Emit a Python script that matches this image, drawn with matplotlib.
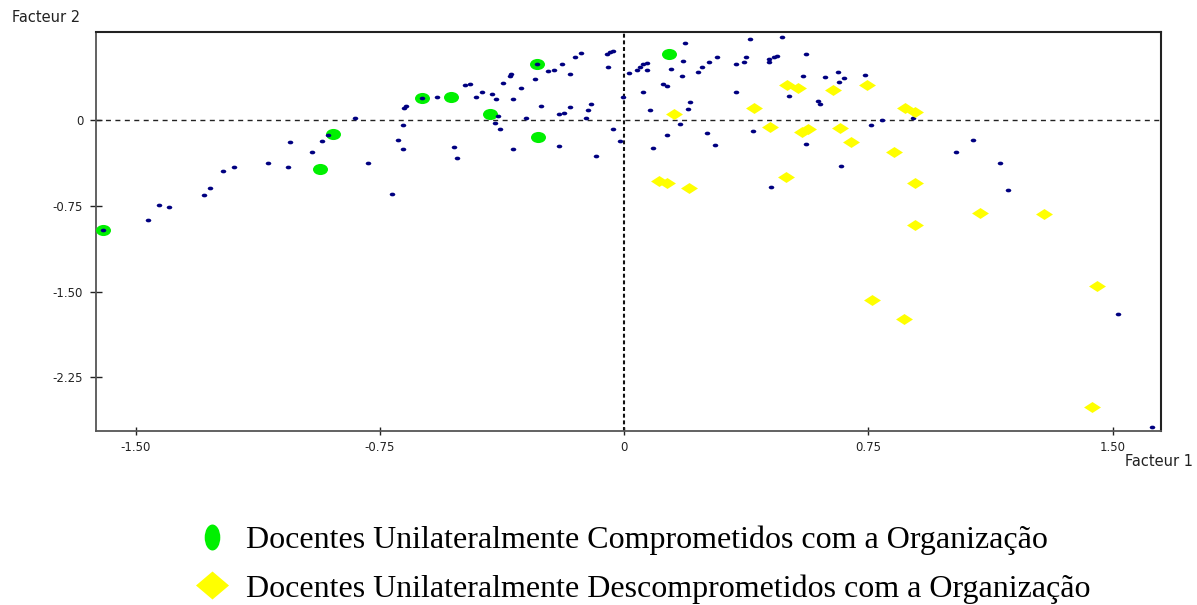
import numpy as np
import matplotlib
matplotlib.use("Agg")
import matplotlib.pyplot as plt
from matplotlib.path import Path
from matplotlib.transforms import Affine2D
from matplotlib.lines import Line2D

# ---------------- data ----------------
navy_x = [-1.599, -1.462, -1.428, -1.398, -1.291, -1.271, -1.232, -1.198, -1.095, -1.031,
          -1.027, -0.958, -0.928, -0.909, -0.826, -0.787, -0.713, -0.696, -0.675, -0.669,
          -0.680, -0.680, -0.621, -0.576, -0.522, -0.513, -0.488, -0.473, -0.455, -0.435,
          -0.405, -0.395, -0.386, -0.396, -0.382, -0.342, -0.342, -0.371, -0.350, -0.346,
          -0.316, -0.302, -0.273, -0.269, -0.254, -0.234, -0.215, -0.190, -0.166, -0.150,
          -0.131, -0.201, -0.185, -0.200, -0.165, -0.117, -0.111, -0.102, -0.087, -0.053,
          -0.044, -0.033, -0.048, -0.033, -0.014, -0.004, 0.016, 0.041, 0.049, 0.059,
          0.070, 0.070, 0.059, 0.080, 0.089, 0.133, 0.119, 0.133, 0.143, 0.186,
          0.182, 0.177, 0.173, 0.197, 0.202, 0.226, 0.240, 0.260, 0.285, 0.255,
          0.279, 0.344, 0.369, 0.374, 0.343, 0.387, 0.397, 0.451, 0.446, 0.446,
          0.459, 0.471, 0.485, 0.505, 0.559, 0.549, 0.617, 0.656, 0.661, 0.676,
          0.739, 0.597, 0.602, 0.793, 0.759, 0.887, 0.559, 0.666, 1.072, 1.019,
          1.155, 1.179, 1.518, 1.621]
navy_y = [-0.962, -0.874, -0.746, -0.758, -0.656, -0.592, -0.446, -0.408, -0.373, -0.408,
          -0.192, -0.282, -0.181, -0.128, 0.017, -0.373, -0.647, -0.175, 0.108, 0.125,
          -0.046, -0.256, 0.190, 0.198, -0.236, -0.330, 0.309, 0.317, 0.198, 0.245,
          0.227, 0.181, 0.035, -0.029, -0.081, -0.256, 0.181, 0.326, 0.385, 0.402,
          0.280, 0.017, 0.361, 0.492, 0.125, 0.426, 0.437, 0.492, 0.399, 0.553,
          0.583, 0.052, 0.064, -0.227, 0.116, 0.015, 0.087, 0.137, -0.317, 0.574,
          0.592, 0.601, 0.463, -0.081, -0.184, 0.198, 0.408, 0.434, 0.466, 0.487,
          0.501, 0.434, 0.245, 0.090, -0.247, -0.128, 0.317, 0.300, 0.443, 0.673,
          0.518, 0.382, -0.038, 0.099, 0.155, 0.420, 0.463, 0.507, 0.553, -0.111,
          -0.219, 0.492, 0.507, 0.553, 0.245, 0.708, -0.094, -0.583, 0.510, 0.536,
          0.551, 0.562, 0.728, 0.207, 0.574, 0.382, 0.373, 0.420, 0.335, 0.365,
          0.391, 0.166, 0.142, 0.000, -0.046, 0.020, -0.210, -0.399, -0.172, -0.282,
          -0.373, -0.609, -1.693, -2.686]

green_x = [-1.599, -0.893, -0.935, -0.621, -0.533, -0.411, -0.269, -0.264, 0.137]
green_y = [-0.962, -0.120, -0.428, 0.190, 0.198, 0.055, 0.492, -0.146, 0.574]

yellow_x = [0.154, 0.108, 0.133, 0.199, 0.399, 0.447, 0.500, 0.533, 0.496, 0.546,
            0.566, 0.643, 0.747, 0.863, 0.894, 0.663, 0.697, 0.829, 0.893, 1.093,
            1.290, 0.893, 0.761, 0.859, 1.453, 1.437]
yellow_y = [0.050, -0.533, -0.551, -0.597, 0.105, -0.059, 0.306, 0.277, -0.496, -0.108,
            -0.081, 0.262, 0.303, 0.108, 0.073, -0.067, -0.195, -0.277, -0.551, -0.816,
            -0.822, -0.915, -1.571, -1.742, -1.451, -2.506]

x_ticks = [-1.50, -0.75, 0.0, 0.75, 1.50]
x_tick_labels = ["-1.50", "-0.75", "0", "0.75", "1.50"]
y_ticks = [0.0, -0.75, -1.50, -2.25]
y_tick_labels = ["0", "-0.75", "-1.50", "-2.25"]

x_title = "Facteur 1"
y_title = "Facteur 2"
legend_labels = ["Docentes Unilateralmente Comprometidos com a Organização",
                 "Docentes Unilateralmente Descomprometidos com a Organização"]

# ---------------- markers ----------------
circ = Path.unit_circle()
def scaled(path, sx, sy):
    return path.transformed(Affine2D().scale(sx, sy))

diamond = Path([(0, 1), (1, 0), (0, -1), (-1, 0), (0, 1)],
               [Path.MOVETO, Path.LINETO, Path.LINETO, Path.LINETO, Path.CLOSEPOLY])

navy_marker = scaled(circ, 1.5, 1.0)
green_marker = scaled(circ, 1.35, 1.0)
yellow_marker = scaled(diamond, 1.55, 1.0)
leg_green_marker = scaled(circ, 0.6, 1.0)
leg_yellow_marker = scaled(diamond, 1.18, 1.0)

NAVY = "#000080"
GREEN = "#00f000"
YELLOW = "#ffff00"

# ---------------- figure ----------------
W, H = 1197, 605
fig = plt.figure(figsize=(W / 100, H / 100), dpi=100)
ax = fig.add_axes([96 / W, 1 - 431 / H, (1160.7 - 96) / W, (431 - 32.3) / H])

ax.set_xlim(-1.622, 1.648)
ax.set_ylim(-2.719, 0.767)

ax.axhline(0, color="#222222", lw=1.0, dashes=(3.6, 3.2), zorder=1)
ax.axvline(0, color="#111111", lw=1.5, dashes=(1.9, 1.3), zorder=1)

ax.plot(green_x, green_y, linestyle="none", marker=green_marker, markersize=10.8,
        markerfacecolor=GREEN, markeredgecolor=GREEN, markeredgewidth=0, zorder=3)
ax.plot(navy_x, navy_y, linestyle="none", marker=navy_marker, markersize=4.0,
        markerfacecolor=NAVY, markeredgecolor=NAVY, markeredgewidth=0, zorder=4)
ax.plot(yellow_x, yellow_y, linestyle="none", marker=yellow_marker, markersize=12.2,
        markerfacecolor=YELLOW, markeredgecolor=YELLOW, markeredgewidth=0, zorder=5)

ax.set_xticks(x_ticks)
ax.set_xticklabels(x_tick_labels)
ax.set_yticks(y_ticks)
ax.set_yticklabels(y_tick_labels)
ax.tick_params(axis="x", direction="inout", length=5.8, width=1.0, color="#222222",
               labelsize=8.5, labelcolor="#222222", pad=4.0)
ax.tick_params(axis="y", direction="inout", length=8.5, width=1.0, color="#222222",
               labelsize=8.5, labelcolor="#222222", pad=5.0)
for lab in ax.get_xticklabels() + ax.get_yticklabels():
    lab.set_fontfamily("DejaVu Sans")

for side in ["left", "bottom"]:
    ax.spines[side].set_color("#555555")
    ax.spines[side].set_linewidth(1.3)
for side in ["top", "right"]:
    ax.spines[side].set_color("#222222")
    ax.spines[side].set_linewidth(1.5)

fig.text(12 / W, 1 - 17.5 / H, y_title, ha="left", va="center", fontsize=10.5,
         family="DejaVu Sans", color="#222222")
fig.text(1193 / W, 1 - 462 / H, x_title, ha="right", va="center", fontsize=10.5,
         family="DejaVu Sans", color="#222222")

handles = [
    Line2D([], [], linestyle="none", marker=leg_green_marker, markersize=18.7,
           markerfacecolor=GREEN, markeredgecolor=GREEN, markeredgewidth=0),
    Line2D([], [], linestyle="none", marker=leg_yellow_marker, markersize=23.8,
           markerfacecolor=YELLOW, markeredgecolor=YELLOW, markeredgewidth=0),
]
fig.legend(handles, legend_labels, loc="center left",
           bbox_to_anchor=(193 / W, 1 - 564.5 / H), frameon=False,
           prop={"family": "Liberation Serif", "size": 23},
           handlelength=1.2, handletextpad=0.47, labelspacing=0.6,
           borderpad=0, borderaxespad=0)

fig.savefig("out.png", dpi=100)
